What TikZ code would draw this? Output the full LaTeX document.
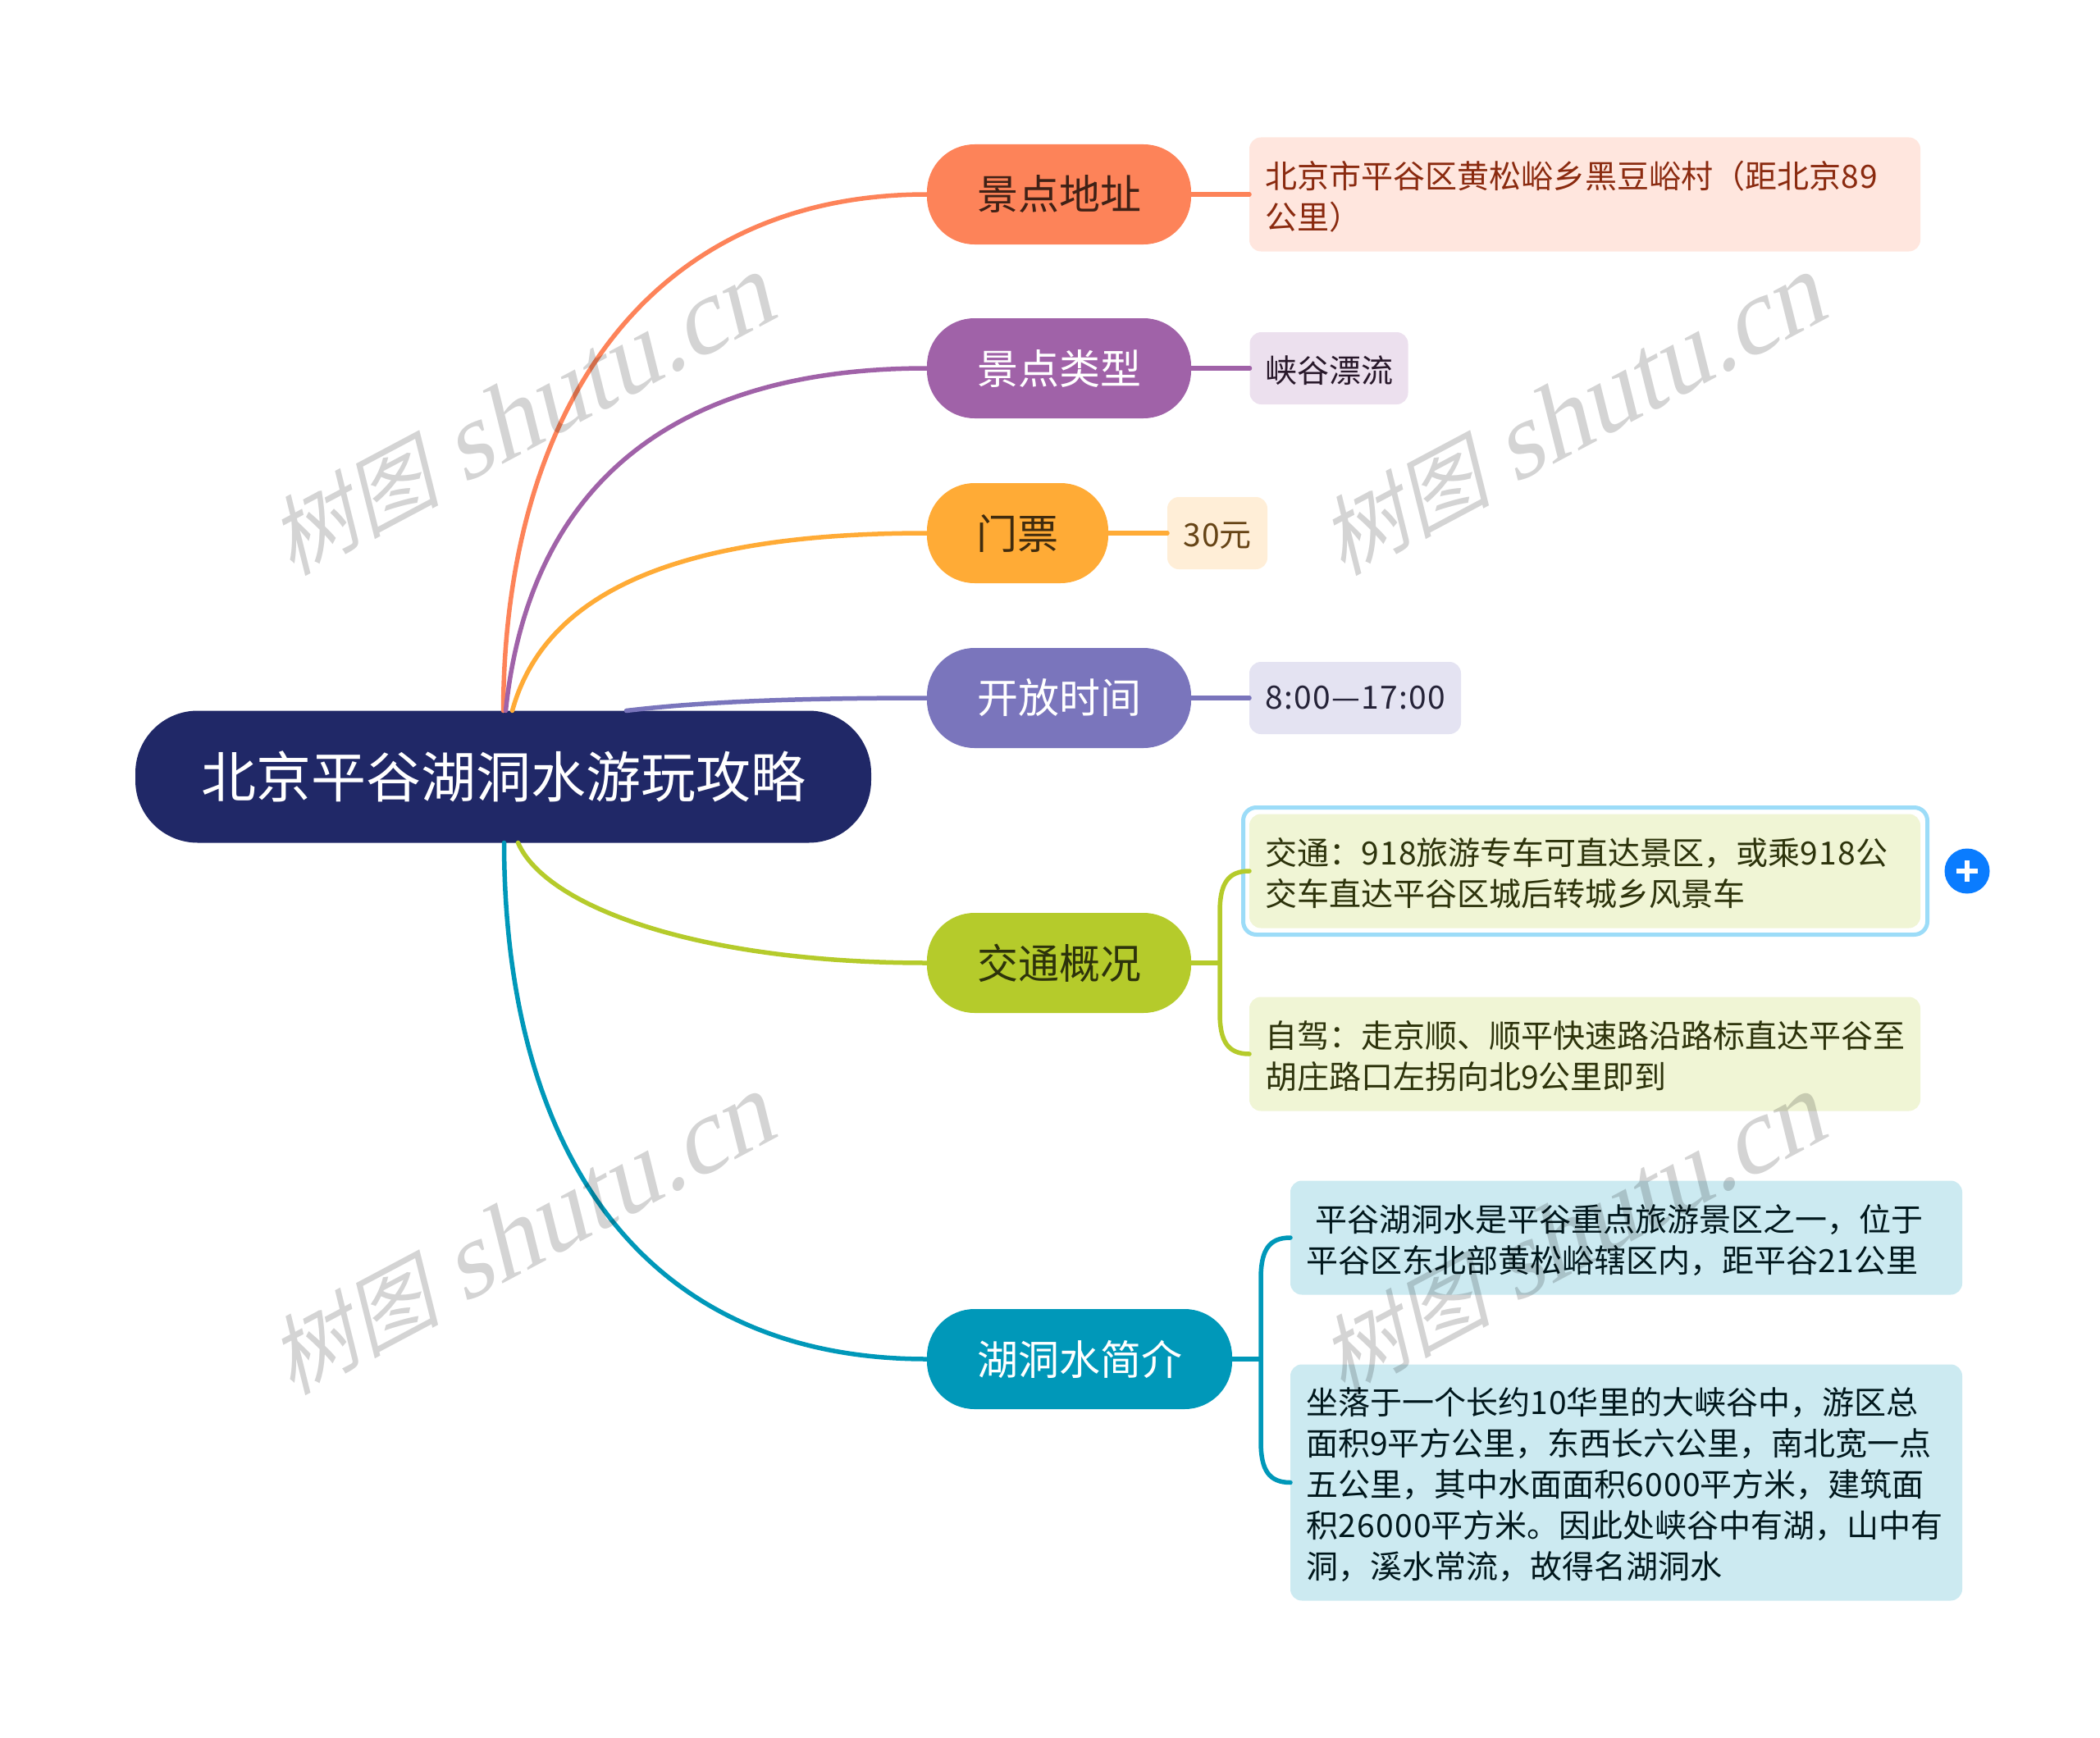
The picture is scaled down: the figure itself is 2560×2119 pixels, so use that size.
\documentclass[tikz,border=0pt]{standalone}
\usepackage{fontspec}
\setmainfont{Noto Sans CJK SC}
\newfontfamily\markcjk[FakeSlant=0.25]{Noto Sans CJK SC}
\newfontfamily\marklatin[FakeSlant=0.25]{Liberation Serif}
\usetikzlibrary{positioning,calc}
\definecolor{rootc}{HTML}{202867}
\definecolor{addrc}{HTML}{FD8359}
\definecolor{kindc}{HTML}{A062A8}
\definecolor{tickc}{HTML}{FFAB36}
\definecolor{openc}{HTML}{7A75BC}
\definecolor{roadc}{HTML}{B5CB2B}
\definecolor{introc}{HTML}{0098B9}
\definecolor{selc}{HTML}{9CDCF8}
\definecolor{morec}{HTML}{0A7CFF}
\definecolor{addrt}{HTML}{8A2A0F}
\tikzset{
  rootnode/.style={rectangle,fill=rootc,text=white,rounded corners=76pt,inner sep=0pt,outer sep=0pt,
    minimum width=897pt,minimum height=161pt,font=\fontsize{67}{75}\selectfont},
  pill/.style={rectangle,rounded corners=58pt,inner sep=0pt,outer sep=0pt,minimum height=122pt,
    font=\fontsize{50}{56}\selectfont},
  leaf/.style={rectangle,rounded corners=14pt,inner xsep=19pt,inner ysep=0pt,outer sep=0pt,
    align=left,font=\fontsize{39}{50}\selectfont,execute at begin node={\rule{0pt}{#1}}},
  leaf/.default=38pt,
  selbox/.style={draw=selc,line width=5pt,rectangle,rounded corners=16pt,fill=white,inner sep=0pt,outer sep=0pt},
  link/.style={line width=5.5pt,line cap=round},
  wmark/.style={rotate=28,text=black,text opacity=0.17,inner sep=0pt}
}
\newcommand{\wmtext}{{\markcjk\fontsize{105}{120}\selectfont 树图\hspace{28pt}\marklatin\fontsize{130}{120}\selectfont shutu.cn}}
\newcommand{\dg}[1]{{\addfontfeatures{LetterSpace=3.5}#1}}
\begin{document}
\begin{tikzpicture}[x=1pt,y=-1pt]
  \useasboundingbox (0,0) rectangle (2560,2119);
  \node[rootnode] (root) at (613.5,947) {北京平谷湖洞水游玩攻略};
  % topics
  \node[pill,fill=addrc,text=addrc!25!black,minimum width=322pt] (addr) at (1291,237) {景点地址};
  \node[pill,fill=kindc,text=white,minimum width=322pt] (kind) at (1291,449) {景点类型};
  \node[pill,fill=tickc,text=tickc!25!black,minimum width=221pt] (tick) at (1240.5,650) {门票};
  \node[pill,fill=openc,text=white,minimum width=322pt] (open) at (1291,851) {开放时间};
  \node[pill,fill=roadc,text=roadc!25!black,minimum width=322pt] (road) at (1291,1174) {交通概况};
  \node[pill,fill=introc,text=white,minimum width=372pt] (intro) at (1316,1657) {湖洞水简介};
  % details
  \node[leaf=38pt,fill=addrc!20,text=addrt,text width=780pt,minimum height=139pt] (addrA) at (1932,237)
    {北京市平谷区黄松峪乡黑豆峪村（距北京\dg{89}\\公里）};
  \node[leaf,fill=kindc!20,text=kindc!25!black,text width=155pt,minimum height=88pt] (kindA) at (1620,449) {峡谷漂流};
  \node[leaf=36pt,fill=tickc!20,text=tickc!40!black,text width=84pt,minimum height=88pt] (tickA) at (1484,650) {\dg{30}元};
  \node[leaf=0pt,fill=openc!20,text=openc!30!black,text width=220pt,minimum height=88pt] (openA) at (1652,851) {\dg{8:00—17:00}};
  \node[selbox,minimum width=834pt,minimum height=155pt] (roadS) at (1932.5,1062) {};
  \node[leaf=39pt,fill=roadc!20,text=roadc!25!black,text width=780pt,minimum height=139pt] (roadA) at (1932,1062)
    {交通：\dg{918}旅游专车可直达景区，或乘\dg{918}公\\交车直达平谷区城后转城乡风景车};
  \node[leaf=39pt,fill=roadc!20,text=roadc!25!black,text width=780pt,minimum height=139pt] (roadB) at (1932,1285)
    {自驾：走京顺、顺平快速路沿路标直达平谷至\\胡庄路口左拐向北\dg{9}公里即到};
  \node[leaf=39pt,fill=introc!20,text=introc!15!black,text width=781pt,minimum height=139pt] (introA) at (1982.5,1509)
    {\hspace*{11pt}平谷湖洞水是平谷重点旅游景区之一，位于\\平谷区东北部黄松峪辖区内，距平谷\dg{21}公里};
  \node[leaf,fill=introc!20,text=introc!15!black,text width=781pt,minimum height=288pt] (introB) at (1982.5,1807.5)
    {坐落于一个长约\dg{10}华里的大峡谷中，游区总\\面积\dg{9}平方公里，东西长六公里，南北宽一点\\五公里，其中水面面积\dg{6000}平方米，建筑面\\积\dg{26000}平方米。因此处峡谷中有湖，山中有\\洞，溪水常流，故得名湖洞水};
  \node[circle,fill=morec,minimum size=55pt,inner sep=0pt] (more) at (2398,1062) {};
  \draw[white,line width=6pt] ([xshift=-13pt]more.center) -- ([xshift=13pt]more.center);
  \draw[white,line width=6pt] ([yshift=-13pt]more.center) -- ([yshift=13pt]more.center);
  % branches
  \draw[link,addrc] (root.north) .. controls (615,500) and (790,237) .. (addr.west);
  \draw[link,kindc] ([xshift=3pt]root.north) .. controls (640,640) and (770,449) .. (kind.west);
  \draw[link,tickc] ([xshift=11pt]root.north) .. controls (665,720) and (830,650) .. (tick.west);
  \draw[link,openc] ([xshift=150pt]root.north) .. controls (860,855) and (980,851) .. (open.west);
  \draw[link,roadc] ([xshift=18pt]root.south) .. controls (665,1105) and (850,1174) .. (road.west);
  \draw[link,introc] ([xshift=1pt]root.south) .. controls (615,1400) and (780,1657) .. (intro.west);
  \draw[link,addrc] (addr.east) -- (addrA.west);
  \draw[link,kindc] (kind.east) -- (kindA.west);
  \draw[link,tickc] (tick.east) -- (tickA.west);
  \draw[link,openc] (open.east) -- (openA.west);
  \coordinate (roadJ) at (1487,1174);
  \coordinate (introJ) at (1537,1657);
  \draw[link,roadc] (road.east) -- (roadJ);
  \draw[link,roadc] (roadJ) -- ($(roadJ |- roadA.west)+(0,50)$) .. controls ($(roadJ |- roadA.west)+(0,15)$) and ($(roadJ |- roadA.west)+(10,0)$) .. (roadA.west);
  \draw[link,roadc] (roadJ) -- ($(roadJ |- roadB.west)+(0,-50)$) .. controls ($(roadJ |- roadB.west)+(0,-15)$) and ($(roadJ |- roadB.west)+(10,0)$) .. (roadB.west);
  \draw[link,introc] (intro.east) -- (introJ);
  \draw[link,introc] (introJ) -- ($(introJ |- introA.west)+(0,50)$) .. controls ($(introJ |- introA.west)+(0,15)$) and ($(introJ |- introA.west)+(10,0)$) .. (introA.west);
  \draw[link,introc] (introJ) -- ($(introJ |- introB.west)+(0,-50)$) .. controls ($(introJ |- introB.west)+(0,-15)$) and ($(introJ |- introB.west)+(10,0)$) .. (introB.west);
  % watermarks
  \node[wmark] (markA) at (634,508) {\wmtext};
  \node[wmark] (markB) at (1915,508) {\wmtext};
  \node[wmark] (markC) at (634,1507) {\wmtext};
  \node[wmark] (markD) at (1915,1507) {\wmtext};
\end{tikzpicture}
\end{document}
